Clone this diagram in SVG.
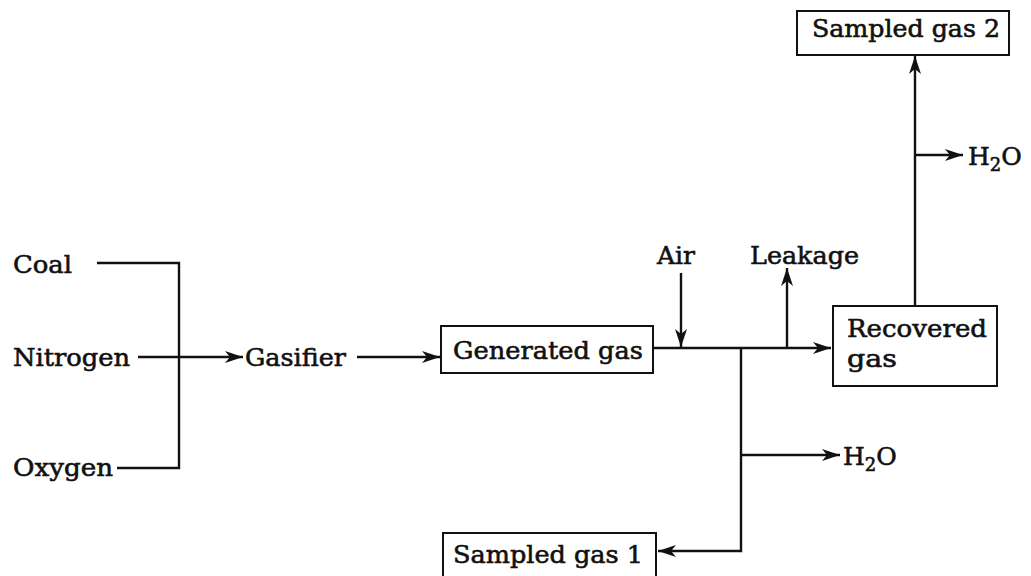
<svg xmlns="http://www.w3.org/2000/svg" width="1031" height="576" viewBox="0 0 1031 576">
<style>
  text { font-family: "DejaVu Serif", "Liberation Serif", serif; font-size: 25px; fill: #111; stroke: #111; stroke-width: 0.6; }
  .box { fill: #fff; stroke: #111; stroke-width: 2; }
  .ln { fill: none; stroke: #111; stroke-width: 2.4; }
  .sub { font-size: 18px; }
</style>
<defs>
  <marker id="ah" markerUnits="userSpaceOnUse" markerWidth="20" markerHeight="14" refX="18" refY="6" orient="auto">
    <path d="M0,0 L18,6 L0,12 L5,6 z" fill="#111"/>
  </marker>
</defs>
<rect width="1031" height="576" fill="#fff"/>
<g id="connectors">
  <path class="ln" d="M97,263 H179 V468 H117"/>
  <path class="ln" d="M138,357 H243" marker-end="url(#ah)"/>
  <path class="ln" d="M357,357 H440" marker-end="url(#ah)"/>
  <path class="ln" d="M653,348 H831" marker-end="url(#ah)"/>
  <path class="ln" d="M681,273 V347" marker-end="url(#ah)"/>
  <path class="ln" d="M787,348 V268" marker-end="url(#ah)"/>
  <path class="ln" d="M741,348 V551 H658" marker-end="url(#ah)"/>
  <path class="ln" d="M741,455 H840" marker-end="url(#ah)"/>
  <path class="ln" d="M915,306 V56" marker-end="url(#ah)"/>
  <path class="ln" d="M915,155 H963" marker-end="url(#ah)"/>
</g>
<g id="coal"><text x="13" y="273" textLength="59" lengthAdjust="spacingAndGlyphs">Coal</text></g>
<g id="nitrogen"><text x="13" y="366" textLength="117" lengthAdjust="spacingAndGlyphs">Nitrogen</text></g>
<g id="oxygen"><text x="13" y="476" textLength="100" lengthAdjust="spacingAndGlyphs">Oxygen</text></g>
<g id="gasifier"><text x="245" y="366" textLength="101" lengthAdjust="spacingAndGlyphs">Gasifier</text></g>
<g id="generated-gas">
  <rect class="box" x="441" y="326" width="212" height="47"/>
  <text x="453" y="359" textLength="190" lengthAdjust="spacingAndGlyphs">Generated gas</text>
</g>
<g id="air"><text x="657" y="264" textLength="38" lengthAdjust="spacingAndGlyphs">Air</text></g>
<g id="leakage"><text x="750" y="264" textLength="109" lengthAdjust="spacingAndGlyphs">Leakage</text></g>
<g id="recovered-gas">
  <rect class="box" x="833" y="306" width="164" height="80"/>
  <text x="847" y="337" textLength="140" lengthAdjust="spacingAndGlyphs">Recovered</text>
  <text x="847" y="367" textLength="50" lengthAdjust="spacingAndGlyphs">gas</text>
</g>
<g id="sampled-gas-2">
  <rect class="box" x="797" y="11" width="212" height="44"/>
  <text x="812" y="37" textLength="188" lengthAdjust="spacingAndGlyphs">Sampled gas 2</text>
</g>
<g id="h2o-upper"><text x="968" y="165">H<tspan class="sub" dy="6">2</tspan><tspan dy="-6">O</tspan></text></g>
<g id="h2o-lower"><text x="843" y="465">H<tspan class="sub" dy="6">2</tspan><tspan dy="-6">O</tspan></text></g>
<g id="sampled-gas-1">
  <rect class="box" x="443" y="533" width="213" height="50"/>
  <text x="453" y="563" textLength="190" lengthAdjust="spacingAndGlyphs">Sampled gas 1</text>
</g>
</svg>
